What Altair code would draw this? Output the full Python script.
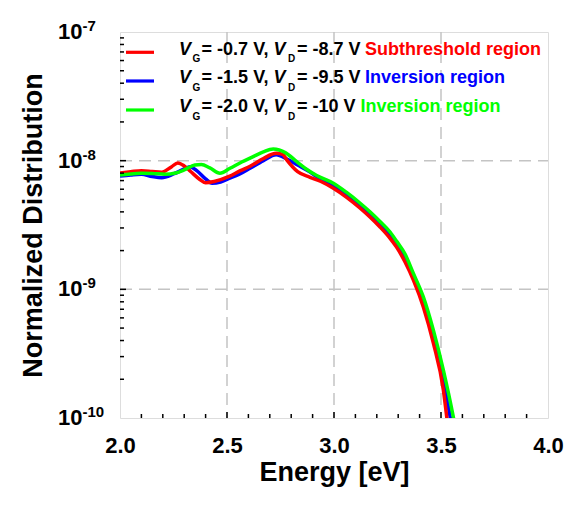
import altair as alt
import pandas as pd

F = "Liberation Sans"

# ---- data ----
red_E = [2.00, 2.05, 2.10, 2.15, 2.195, 2.24, 2.27, 2.30, 2.33, 2.37, 2.40, 2.44, 2.51, 2.56, 2.61, 2.67,
         2.73, 2.76, 2.78, 2.83, 2.888, 2.939, 2.997, 3.059, 3.121, 3.168, 3.215, 3.262, 3.293, 3.332,
         3.371, 3.417, 3.464, 3.511, 3.53]
red_v = [8.02e-9, 8.20e-9, 8.36e-9, 8.24e-9, 8.13e-9, 8.94e-9, 9.60e-9, 9.10e-9, 8.24e-9, 7.21e-9,
         6.75e-9, 6.89e-9, 7.54e-9, 8.32e-9, 9.10e-9, 1.04e-8, 1.14e-8, 1.12e-8, 1.01e-8, 8.21e-9,
         7.43e-9, 6.89e-9, 6.10e-9, 5.19e-9, 4.29e-9, 3.65e-9, 3.05e-9, 2.49e-9, 2.12e-9, 1.63e-9,
         1.18e-9, 7.34e-10, 3.83e-10, 1.65e-10, 9.2e-11]

blue_E = [2.00, 2.05, 2.10, 2.15, 2.195, 2.25, 2.30, 2.327, 2.36, 2.40, 2.43, 2.47, 2.51, 2.56, 2.61,
          2.67, 2.73, 2.78, 2.83, 2.88, 2.919, 2.997, 3.059, 3.121, 3.168, 3.215, 3.262, 3.293, 3.332,
          3.371, 3.417, 3.464, 3.511, 3.546]
blue_v = [7.60e-9, 7.74e-9, 7.84e-9, 7.54e-9, 7.38e-9, 7.88e-9, 8.62e-9, 8.98e-9, 8.32e-9, 7.21e-9,
          6.68e-9, 6.83e-9, 7.27e-9, 7.88e-9, 8.78e-9, 1.00e-8, 1.11e-8, 1.03e-8, 9.26e-9, 8.32e-9,
          7.54e-9, 6.42e-9, 5.46e-9, 4.53e-9, 3.87e-9, 3.25e-9, 2.67e-9, 2.27e-9, 1.79e-9, 1.27e-9,
          8.13e-10, 4.34e-10, 1.98e-10, 9.5e-11]

green_E = [2.00, 2.05, 2.10, 2.15, 2.21, 2.26, 2.30, 2.35, 2.38, 2.42, 2.467, 2.514, 2.569, 2.62, 2.67,
           2.716, 2.774, 2.826, 2.87, 2.919, 2.997, 3.059, 3.121, 3.168, 3.215, 3.262, 3.293, 3.332,
           3.371, 3.417, 3.464, 3.511, 3.557, 3.561]
green_v = [7.74e-9, 7.88e-9, 7.98e-9, 7.95e-9, 7.84e-9, 8.02e-9, 8.47e-9, 9.26e-9, 9.34e-9, 8.78e-9,
           7.98e-9, 8.73e-9, 9.77e-9, 1.07e-8, 1.17e-8, 1.23e-8, 1.15e-8, 9.82e-9, 8.62e-9, 7.67e-9,
           6.68e-9, 5.66e-9, 4.69e-9, 4.01e-9, 3.37e-9, 2.79e-9, 2.36e-9, 1.88e-9, 1.33e-9, 8.77e-10,
           4.84e-10, 2.36e-10, 1.03e-10, 9.5e-11]

x_major = [2.5, 3.0, 3.5]
x_labels = [2.0, 2.5, 3.0, 3.5, 4.0]
x_minor = [2.1, 2.2, 2.3, 2.4, 2.6, 2.7, 2.8, 2.9, 3.1, 3.2, 3.3, 3.4, 3.6, 3.7, 3.8, 3.9]
y_major = [1e-9, 1e-8]
y_minor = [m * 10.0 ** e for e in (-10, -9, -8) for m in range(2, 10)]
y_label_vals = [1e-10, 1e-9, 1e-8, 1e-7]
y_label_sup = ["-10", "-9", "-8", "-7"]

legend_rows = [
    ("-0.7", "-8.7", "Subthreshold region", "#ff0000"),
    ("-1.5", "-9.5", "Inversion region", "#0000ff"),
    ("-2.0", "-10", "Inversion region", "#00ff00"),
]

W, H = 428, 386

xscale = alt.Scale(domain=[2, 4], nice=False, zero=False)
yscale = alt.Scale(type="log", domain=[1e-10, 1e-7], nice=False)
xaxis = alt.Axis(values=x_labels, format=".1f", title="Energy [eV]", ticks=False, domain=False,
                 grid=False, labelFont=F, labelFontSize=22, labelFontWeight="bold",
                 labelColor="black", labelPadding=17, labelFlush=False,
                 titleFont=F, titleFontSize=27, titleFontWeight="bold", titleColor="black",
                 titleY=62, titleBaseline="alphabetic")
yaxis = alt.Axis(values=y_label_vals, labels=False, ticks=False, domain=False, grid=False,
                 title="Normalized Distribution", titleFont=F, titleFontSize=27,
                 titleFontWeight="bold", titleColor="black", titleX=-87, titleY=H / 2,
                 titleAngle=270, titleAlign="center", titleBaseline="middle")
xenc = alt.X("E:Q", scale=xscale, axis=xaxis)
yenc = alt.Y("value:Q", scale=yscale, axis=yaxis)

layers = []

# dashed grid
layers.append(alt.Chart(pd.DataFrame({"E": x_major})).mark_rule(
    color="#c4c4c4", strokeWidth=1.5, strokeDash=[12, 7]).encode(
    x=xenc, y=alt.value(0), y2=alt.value(H)))
layers.append(alt.Chart(pd.DataFrame({"value": y_major})).mark_rule(
    color="#c4c4c4", strokeWidth=1.5, strokeDash=[12, 7]).encode(
    y=yenc, x=alt.value(0), x2=alt.value(W)))

# curves
for E, v, col in [(blue_E, blue_v, "#0000ff"), (red_E, red_v, "#ff0000"), (green_E, green_v, "#00ff00")]:
    layers.append(alt.Chart(pd.DataFrame({"E": E, "value": v})).mark_line(
        color=col, strokeWidth=3.5, clip=True, interpolate="monotone").encode(x=xenc, y=yenc))

# inward ticks
layers.append(alt.Chart(pd.DataFrame({"E": x_minor})).mark_rule(color="black", strokeWidth=1.5).encode(
    x=xenc, y=alt.value(H), y2=alt.value(H - 4)))
layers.append(alt.Chart(pd.DataFrame({"E": x_major})).mark_rule(color="black", strokeWidth=1.5).encode(
    x=xenc, y=alt.value(H), y2=alt.value(H - 6)))
layers.append(alt.Chart(pd.DataFrame({"value": y_minor})).mark_rule(color="black", strokeWidth=1.5).encode(
    y=yenc, x=alt.value(0), x2=alt.value(4)))
layers.append(alt.Chart(pd.DataFrame({"value": y_major})).mark_rule(color="black", strokeWidth=1.5).encode(
    y=yenc, x=alt.value(0), x2=alt.value(6)))

# y tick labels 10^n
ylab = pd.DataFrame({"value": y_label_vals, "base": ["10"] * 4, "sup": y_label_sup})
layers.append(alt.Chart(ylab).mark_text(align="left", baseline="middle", font=F, fontSize=22,
                                        fontWeight="bold", color="black").encode(
    y=yenc, x=alt.value(-62), text="base:N"))
layers.append(alt.Chart(ylab).mark_text(align="left", baseline="middle", font=F, fontSize=15,
                                        fontWeight="bold", color="black", dy=-6).encode(
    y=yenc, x=alt.value(-37.5), text="sup:N"))

# custom legend
one = pd.DataFrame({"a": [0]})
line_y = [20.3, 49, 78]
base_y = [22.5, 51.2, 80]
col_x = [245, 245, 240.5]
for i, (vg, vd, region, col) in enumerate(legend_rows):
    by = base_y[i]
    layers.append(alt.Chart(one).mark_rule(color=col, strokeWidth=3.2).encode(
        x=alt.value(6), x2=alt.value(34), y=alt.value(line_y[i])))
    segs = [
        (59, by, "V", "italic", 18, "black"),
        (72.5, by + 7.5, "G", "normal", 10, "black"),
        (81.6, by, f"= {vg} V,", "normal", 18, "black"),
        (153.5, by, "V", "italic", 18, "black"),
        (168, by + 7.5, "D", "normal", 10, "black"),
        (177, by, f"= {vd} V", "normal", 18, "black"),
        (col_x[i], by, region, "normal", 18, col),
    ]
    for sx, sy, txt, style, fs, c in segs:
        layers.append(alt.Chart(one).mark_text(
            text=txt, align="left", baseline="alphabetic", font=F, fontSize=fs,
            fontWeight="bold", fontStyle=style, color=c).encode(
            x=alt.value(sx), y=alt.value(sy)))

chart = alt.layer(*layers).properties(
    width=W, height=H,
    autosize=alt.AutoSizeParams(type="none"),
    padding={"left": 112, "top": 24, "right": 27, "bottom": 81},
).configure_view(stroke="black", strokeWidth=2).configure(background="white")

chart.save("out.html", embed_options={"renderer": "svg", "actions": False})
